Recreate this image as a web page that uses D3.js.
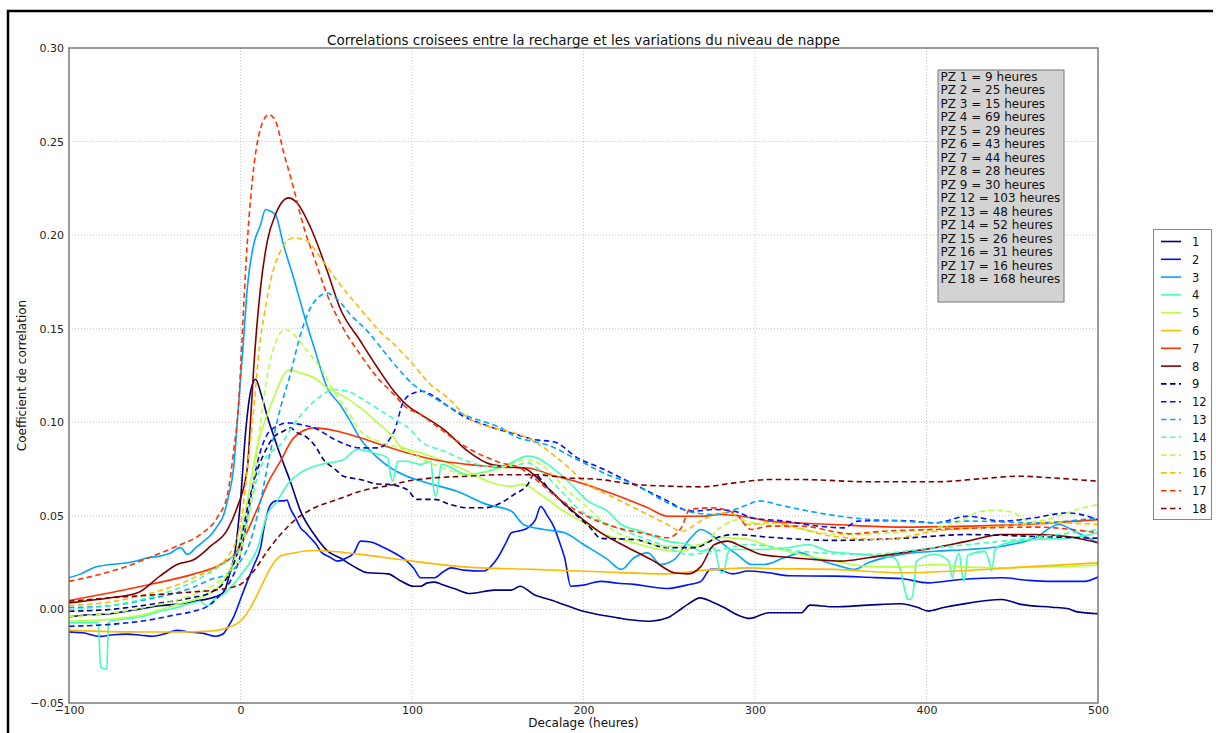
<!DOCTYPE html>
<html>
<head>
<meta charset="utf-8">
<script src="https://cdn.jsdelivr.net/npm/d3@7"></script>
<style>
  html, body { margin: 0; padding: 0; background: #fff; }
  svg { display: block; font-family: "DejaVu Sans", sans-serif; }
</style>
</head>
<body>
<svg id="chart" width="1216" height="733"></svg>
<script>
// ---------- DATA ----------
const title = "Correlations croisees entre la recharge et les variations du niveau de nappe";
const xLabel = "Decalage (heures)";
const yLabel = "Coefficient de correlation";
const xTicks = [-100, 0, 100, 200, 300, 400, 500];
const yTicks = [-0.05, 0.00, 0.05, 0.10, 0.15, 0.20, 0.25, 0.30];
const seriesNames = ["1","2","3","4","5","6","7","8","9","12","13","14","15","16","17","18"];
const annotationLines = ["PZ 1 = 9 heures","PZ 2 = 25 heures","PZ 3 = 15 heures","PZ 4 = 69 heures","PZ 5 = 29 heures","PZ 6 = 43 heures","PZ 7 = 44 heures","PZ 8 = 28 heures","PZ 9 = 30 heures","PZ 12 = 103 heures","PZ 13 = 48 heures","PZ 14 = 52 heures","PZ 15 = 26 heures","PZ 16 = 31 heures","PZ 17 = 16 heures","PZ 18 = 168 heures"];

const pz1 = [[-100,-0.004],[-90,-0.003],[-76,-0.0023],[-60,0.000],[-47,0.002],[-35,0.003],[-27,0.0044],[-17.5,0.006],[-10,0.009],[-6,0.02],[-3,0.032],[0,0.058],[3,0.095],[6,0.117],[8.8,0.123],[12,0.115],[16,0.102],[20,0.091],[23,0.083],[29,0.0685],[35,0.0525],[43,0.040],[51,0.031],[58,0.0276],[66,0.023],[74,0.0196],[86,0.019],[93,0.0155],[101,0.0124],[105,0.0124],[109,0.0142],[113,0.0146],[117,0.0135],[125,0.011],[134,0.0085],[148,0.0103],[158,0.0103],[163,0.0124],[171,0.008],[181,0.005],[191,0.0018],[200,-0.001],[210,-0.003],[220,-0.0045],[230,-0.0058],[239,-0.0063],[249,-0.0045],[255,-0.001],[261,0.0028],[268,0.0062],[275,0.004],[282,0.001],[290,-0.003],[297,-0.0048],[308,-0.0018],[327,-0.0018],[332,0.0023],[346,0.0014],[366,0.0023],[385,0.003],[395,0.001],[401,-0.0009],[410,0.001],[420,0.0027],[444,0.0053],[455,0.0027],[473,0.0012],[482,0.0005],[488,-0.0013],[500,-0.0023]];
const pz2 = [[-100,-0.012],[-92,-0.0125],[-82,-0.0144],[-74,-0.0135],[-66,-0.0132],[-58,-0.0138],[-51,-0.0143],[-44,-0.013],[-37,-0.0112],[-30,-0.012],[-21.5,-0.0128],[-14.6,-0.0143],[-10,-0.013],[-7.6,-0.0098],[-4,-0.004],[-1.8,0.001],[1,0.008],[4,0.015],[8,0.024],[11.7,0.033],[14,0.045],[17.5,0.056],[21,0.058],[25,0.058],[27,0.0585],[29,0.054],[32,0.049],[35,0.0436],[38,0.041],[41,0.038],[44,0.035],[46.7,0.031],[52,0.028],[56.6,0.0258],[62,0.0276],[66,0.030],[70,0.0365],[76,0.036],[82,0.0338],[90,0.030],[97,0.0258],[101,0.022],[105,0.0169],[113,0.0169],[118,0.020],[122.6,0.0222],[130,0.021],[142,0.0205],[146,0.023],[150,0.0276],[155,0.036],[158,0.041],[163,0.042],[167.5,0.0436],[172,0.048],[175,0.055],[179,0.050],[183,0.0436],[186,0.036],[189,0.0276],[192.6,0.0124],[200,0.013],[210,0.015],[220,0.014],[229.5,0.0134],[240,0.012],[249,0.0112],[260,0.013],[268.5,0.015],[274,0.0214],[278,0.0214],[287,0.019],[296,0.0205],[308,0.0196],[320,0.018],[346,0.0178],[370,0.017],[385,0.0165],[401,0.0142],[420,0.016],[444,0.0169],[460,0.0155],[473,0.015],[492,0.015],[500,0.0173]];
const pz3 = [[-100,0.0169],[-93,0.019],[-86,0.0222],[-76,0.024],[-66,0.0249],[-60,0.026],[-54,0.0276],[-47,0.0285],[-41,0.030],[-35,0.033],[-31,0.0294],[-26,0.033],[-21.5,0.0365],[-17,0.040],[-13.6,0.0445],[-10,0.050],[-7.6,0.058],[-4,0.0757],[-1,0.111],[2,0.147],[4,0.172],[7.7,0.195],[11.7,0.2056],[14.6,0.2137],[17.5,0.2128],[20.4,0.211],[25,0.195],[31,0.177],[37,0.1576],[43,0.1397],[50.6,0.1184],[58,0.1095],[64,0.1006],[70,0.091],[80,0.081],[89,0.0748],[97,0.0712],[109,0.0676],[126.5,0.063],[144,0.056],[158,0.0525],[165,0.0454],[177,0.0427],[189,0.041],[200,0.0347],[214,0.0267],[222,0.0214],[229.5,0.0276],[237.5,0.0302],[245,0.024],[253,0.0267],[261,0.0365],[268.5,0.0427],[278,0.0374],[284,0.033],[290,0.029],[298,0.024],[305,0.024],[317,0.0276],[327,0.0302],[334,0.0276],[350,0.023],[358,0.0214],[366,0.0249],[385,0.0294],[405,0.0311],[424,0.032],[444,0.0338],[463,0.038],[477,0.0454],[488,0.041],[500,0.0356]];
const pz4 = [[-100,-0.0071],[-83,-0.0071],[-81.5,-0.031],[-78,-0.032],[-77,-0.0075],[-76,-0.0062],[-66,-0.005],[-56.5,-0.0036],[-47,-0.001],[-37,0.001],[-30,0.003],[-23.5,0.0044],[-19.5,0.0018],[-15.5,0.0053],[-10,0.008],[-6,0.0115],[2,0.0205],[10,0.033],[15.6,0.0507],[21.5,0.058],[27.4,0.0668],[35,0.073],[46.7,0.0775],[60,0.080],[68,0.0855],[77.6,0.0837],[85.8,0.081],[87.5,0.072],[88.7,0.0685],[90.5,0.075],[91.6,0.0792],[97,0.0792],[105,0.0775],[111,0.0792],[112.5,0.065],[114,0.0605],[116,0.072],[117,0.0775],[132.5,0.072],[144,0.0739],[156,0.0775],[167.5,0.0819],[175,0.080],[179,0.0776],[191,0.0685],[202.5,0.058],[214,0.0525],[222,0.0454],[233.5,0.0418],[249,0.0365],[261,0.0347],[268.5,0.0311],[276,0.033],[278,0.027],[280,0.0196],[282,0.0205],[284,0.030],[286,0.032],[299.5,0.032],[319,0.033],[331,0.0347],[343,0.0311],[362,0.0294],[381,0.0276],[385,0.0205],[388,0.008],[389,0.0053],[391,0.0056],[393,0.015],[394,0.0258],[405,0.0295],[413,0.0258],[415,0.0169],[417,0.026],[419,0.030],[421,0.018],[422,0.015],[424,0.029],[434,0.031],[437,0.024],[438,0.0205],[440,0.032],[444,0.0347],[463,0.0374],[482,0.038],[500,0.041]];
const pz5 = [[-100,-0.0063],[-76,-0.0053],[-56.5,-0.0027],[-37,0.0027],[-17.5,0.0089],[-7.6,0.0187],[-2,0.031],[4,0.058],[10,0.088],[15.6,0.104],[21.5,0.118],[25,0.125],[28,0.128],[35,0.1264],[43,0.1237],[50.6,0.1184],[60,0.114],[70,0.1077],[80,0.0997],[89.5,0.0917],[93,0.0872],[105,0.0837],[118.5,0.0792],[132.5,0.0739],[144,0.0685],[158,0.0659],[165,0.0668],[175,0.0614],[187,0.0534],[198.5,0.0472],[210,0.041],[226,0.0365],[245,0.032],[255,0.0311],[268.5,0.0347],[280,0.0385],[288,0.038],[296,0.0375],[308,0.0338],[327,0.0294],[346,0.0258],[366,0.023],[385,0.0226],[405,0.024],[424,0.0226],[444,0.0222],[463,0.0226],[482,0.023],[500,0.0237]];
const pz6 = [[-100,-0.0112],[-66,-0.012],[-37,-0.0121],[-17.5,-0.0116],[-7.6,-0.0098],[0,-0.0062],[5.8,0.001],[11.7,0.0115],[17.5,0.0222],[23.3,0.0285],[31,0.0302],[43,0.0315],[56.6,0.0308],[70,0.0294],[97,0.0262],[132.5,0.0226],[171,0.0214],[210,0.0201],[249,0.019],[268.5,0.0208],[296,0.0222],[308,0.0219],[346,0.0214],[385,0.0196],[424,0.0208],[463,0.023],[500,0.0249]];
const pz7 = [[-100,0.0048],[-76,0.0089],[-51,0.0137],[-27,0.019],[-11.7,0.024],[-2,0.031],[4,0.0418],[10,0.0543],[15.6,0.0668],[23.3,0.0792],[31,0.0917],[43,0.097],[56.6,0.0952],[70,0.0917],[82,0.088],[97,0.0837],[113,0.080],[132.5,0.0775],[152,0.076],[167.5,0.0756],[181,0.072],[198.5,0.0676],[218,0.0614],[237.5,0.0543],[249,0.0498],[268.5,0.0498],[280,0.0507],[296,0.0493],[308,0.0472],[346,0.0454],[385,0.044],[424,0.0445],[463,0.0457],[500,0.048]];
const pz8 = [[-100,0.0035],[-76,0.0062],[-60,0.0089],[-47,0.0178],[-37,0.024],[-27,0.0267],[-17.5,0.0338],[-7.6,0.0427],[-2,0.0543],[4,0.0757],[5.8,0.100],[7.7,0.129],[11.7,0.172],[15.6,0.1967],[20.4,0.211],[28,0.2199],[33,0.2172],[41,0.2038],[50.6,0.1807],[58,0.1611],[70,0.1433],[80,0.129],[89.5,0.1166],[99,0.1077],[105,0.1042],[118.5,0.0962],[132.5,0.0846],[146,0.0775],[159.5,0.076],[165,0.0756],[175,0.0685],[187,0.058],[198.5,0.0489],[210,0.041],[226,0.033],[241,0.0258],[253,0.0196],[261,0.019],[268.5,0.023],[276,0.0345],[284,0.0365],[292,0.0338],[303.5,0.0294],[317,0.028],[334,0.0267],[350,0.0258],[366,0.0276],[385,0.0302],[405,0.033],[424,0.0365],[444,0.040],[463,0.040],[482,0.039],[500,0.0356]];
const pz9 = [[-100,-0.001],[-76,0.000],[-50,0.003],[-30,0.006],[-17.5,0.009],[-10,0.014],[-5,0.022],[0,0.036],[5,0.058],[10,0.075],[13.6,0.083],[19,0.0917],[25,0.0952],[29,0.097],[33,0.0945],[39,0.0917],[43,0.088],[48.5,0.080],[55,0.075],[60,0.0712],[70,0.0694],[80,0.067],[86,0.0668],[97,0.0641],[103,0.0588],[113,0.0588],[122.6,0.056],[132.5,0.0543],[142,0.0543],[152,0.057],[159.5,0.0614],[167.5,0.0668],[171,0.072],[181,0.0632],[191,0.0543],[204,0.0436],[210,0.038],[229.5,0.0374],[249,0.033],[264.5,0.033],[280,0.039],[288,0.040],[308,0.0386],[346,0.0369],[385,0.038],[424,0.040],[463,0.039],[500,0.038]];
const pz12 = [[-100,-0.009],[-76,-0.008],[-51,-0.0053],[-37,-0.0027],[-27,-0.0009],[-17.5,0.0027],[-11.7,0.008],[-6,0.015],[0,0.0294],[4,0.049],[10,0.079],[15.6,0.0935],[21.5,0.098],[27.4,0.0997],[35,0.0988],[43,0.097],[56.6,0.090],[70,0.0863],[80,0.0863],[89.5,0.095],[95,0.111],[101,0.1157],[106,0.1166],[111,0.1148],[121,0.1086],[130,0.1032],[142,0.0988],[150,0.0962],[158,0.0943],[171,0.0908],[183,0.0895],[196.5,0.081],[210,0.0756],[226,0.0685],[237.5,0.0632],[249,0.058],[258.5,0.0534],[264.5,0.0525],[276,0.0534],[288,0.0525],[298,0.049],[317,0.0472],[337,0.0445],[352,0.0436],[360,0.0472],[385,0.0475],[405,0.0463],[424,0.0498],[444,0.0472],[463,0.049],[482,0.0516],[500,0.048]];
const pz13 = [[-100,0.001],[-76,0.002],[-51,0.006],[-37,0.009],[-27,0.012],[-17.5,0.016],[-7.6,0.019],[0,0.0258],[5.8,0.0365],[11.7,0.058],[17.5,0.0846],[23.3,0.1077],[29,0.1255],[35,0.147],[39,0.1576],[45,0.1665],[50.6,0.169],[56.6,0.1656],[64,0.1576],[74,0.1487],[83.5,0.138],[91.6,0.129],[101,0.120],[113,0.113],[121,0.1086],[132.5,0.1032],[144,0.0997],[153.5,0.0962],[158,0.0935],[181,0.0872],[196.5,0.080],[214,0.072],[229.5,0.0668],[249,0.057],[261,0.0525],[276,0.0507],[296,0.056],[302,0.058],[317,0.0552],[337,0.0516],[356,0.049],[385,0.0472],[405,0.0463],[424,0.0472],[463,0.0463],[500,0.049]];
const pz14 = [[-100,0.000],[-76,0.002],[-51,0.007],[-37,0.011],[-27,0.015],[-17.5,0.020],[-7.6,0.026],[0,0.033],[4,0.049],[11.7,0.0757],[19,0.085],[23.3,0.088],[31,0.0988],[39,0.1077],[46.7,0.114],[54.5,0.1175],[62.5,0.1166],[70,0.113],[82,0.106],[91.6,0.1006],[99,0.0962],[105,0.090],[118.5,0.0846],[132.5,0.0792],[144,0.0766],[158,0.0766],[167.5,0.0783],[175,0.0739],[187,0.0632],[198.5,0.0525],[210,0.0472],[229.5,0.040],[245,0.0347],[261,0.0294],[276,0.0311],[296,0.0347],[327,0.031],[366,0.0295],[405,0.033],[444,0.0365],[500,0.0427]];
const pz15 = [[-100,-0.004],[-76,-0.002],[-51,0.002],[-37,0.005],[-27,0.008],[-17.5,0.012],[-7.6,0.019],[0,0.030],[4,0.045],[8,0.070],[11.7,0.100],[15.6,0.125],[21.5,0.145],[26,0.1496],[31,0.147],[39,0.138],[46.7,0.129],[54.5,0.1166],[62.5,0.106],[70,0.0952],[80,0.090],[93,0.0863],[113,0.0775],[132.5,0.072],[152,0.0756],[167.5,0.080],[175,0.0775],[191,0.0632],[202.5,0.0543],[218,0.0418],[233.5,0.0365],[249,0.0338],[268.5,0.0347],[280,0.044],[290,0.048],[300,0.046],[320,0.044],[350,0.040],[380,0.041],[400,0.043],[420,0.047],[430,0.052],[440,0.053],[450,0.052],[460,0.047],[470,0.048],[480,0.051],[490,0.054],[500,0.056]];
const pz16 = [[-100,0.002],[-76,0.004],[-51,0.009],[-37,0.013],[-27,0.017],[-17.5,0.021],[-7.6,0.028],[0,0.045],[4,0.075],[8,0.110],[11,0.140],[13.6,0.156],[17.5,0.1754],[23.3,0.1915],[31,0.1986],[39,0.1967],[46.7,0.1878],[56.6,0.1754],[66,0.1647],[76,0.154],[82,0.1478],[87.5,0.1433],[99,0.1326],[111,0.120],[121,0.113],[132.5,0.1024],[144,0.0979],[152,0.0962],[171,0.090],[187,0.0792],[202.5,0.0668],[218,0.0596],[233.5,0.0525],[249,0.0454],[257,0.0418],[268.5,0.0472],[280,0.0516],[288,0.0507],[296,0.0454],[308,0.0463],[346,0.039],[375,0.0374],[405,0.0418],[444,0.0445],[473,0.0463],[500,0.0454]];
const pz17 = [[-100,0.015],[-86,0.0178],[-66,0.0231],[-51,0.0285],[-37,0.0338],[-23.5,0.040],[-13.6,0.049],[-7.6,0.0614],[-4,0.0846],[-1,0.111],[1,0.147],[4,0.1967],[7.7,0.236],[11.7,0.257],[16.5,0.2644],[20.4,0.261],[25,0.2448],[31,0.225],[37,0.204],[43,0.1878],[50.6,0.168],[60,0.150],[70,0.136],[80,0.1237],[89.5,0.1148],[97,0.1077],[105,0.1042],[113,0.0988],[132.5,0.0863],[152,0.0783],[163,0.0756],[171,0.0703],[185,0.0596],[200,0.0507],[220,0.0436],[239,0.040],[249,0.0383],[257,0.0436],[262,0.0534],[274,0.0543],[288,0.0516],[298,0.0427],[308,0.0445],[327,0.0445],[356,0.0404],[375,0.0418],[405,0.0427],[434,0.0436],[463,0.044],[500,0.041]];
const pz18 = [[-100,0.0044],[-76,0.0062],[-47,0.008],[-27,0.0094],[-11.7,0.0107],[0,0.0134],[7.7,0.0205],[15.6,0.0311],[23.3,0.040],[31,0.0472],[43,0.0543],[56.6,0.0588],[70,0.0632],[89.5,0.0668],[97,0.0685],[113,0.0703],[132.5,0.0712],[152,0.072],[171,0.072],[191,0.0703],[210,0.0694],[229.5,0.0668],[249,0.0659],[268.5,0.0655],[288,0.0676],[308,0.0694],[327,0.0694],[366,0.0682],[405,0.0682],[434,0.070],[454,0.0712],[473,0.0703],[500,0.0685]];

const seriesValues = [pz1,pz2,pz3,pz4,pz5,pz6,pz7,pz8,pz9,pz12,pz13,pz14,pz15,pz16,pz17,pz18];
const palette = ["#000080","#0012ff","#00a4ff","#41ffb6","#b6ff41","#ffb900","#ff3200","#800000"];

// ---------- CHART ----------
const svg = d3.select("#chart");
const W = 1216, H = 733;
const plot = {left: 69, right: 1098, top: 48, bottom: 703};

const x = d3.scaleLinear().domain([-100, 500]).range([plot.left, plot.right]);
const y = d3.scaleLinear().domain([-0.05, 0.30]).range([plot.bottom, plot.top]);

// outer figure frame (left & top)
svg.append("path")
  .attr("d", `M8,${H} L8,11 L1213,11`)
  .attr("fill", "none").attr("stroke", "#000").attr("stroke-width", 2.5);

// grid
const grid = svg.append("g");
grid.selectAll("line.gx").data(xTicks).join("line")
  .attr("x1", d => x(d)).attr("x2", d => x(d))
  .attr("y1", plot.top).attr("y2", plot.bottom)
  .attr("stroke", "#b8b8b8").attr("stroke-width", 0.8).attr("stroke-dasharray", "1,2");
grid.selectAll("line.gy").data(yTicks).join("line")
  .attr("y1", d => y(d)).attr("y2", d => y(d))
  .attr("x1", plot.left).attr("x2", plot.right)
  .attr("stroke", "#b8b8b8").attr("stroke-width", 0.8).attr("stroke-dasharray", "1,2");

// clip
svg.append("clipPath").attr("id", "clip").append("rect")
  .attr("x", plot.left).attr("y", plot.top)
  .attr("width", plot.right - plot.left).attr("height", plot.bottom - plot.top);

const line = d3.line().x(d => x(d[0])).y(d => y(d[1])).curve(d3.curveMonotoneX);
const lines = svg.append("g").attr("clip-path", "url(#clip)");
seriesValues.forEach((s, i) => {
  lines.append("path")
    .attr("d", line(s))
    .attr("fill", "none")
    .attr("stroke", palette[i % 8])
    .attr("stroke-width", 1.6)
    .attr("stroke-linejoin", "round")
    .attr("stroke-dasharray", i >= 8 ? "5.5,3.5" : null);
});

// axes frame
svg.append("rect")
  .attr("x", plot.left).attr("y", plot.top)
  .attr("width", plot.right - plot.left).attr("height", plot.bottom - plot.top)
  .attr("fill", "none").attr("stroke", "#6a6a6a").attr("stroke-width", 1.3);

// tick labels via d3 axes
const fmtY = d3.format(".2f");
const xAxis = d3.axisBottom(x).tickValues(xTicks).tickSize(0).tickPadding(3).tickFormat(d3.format("d"));
const yAxis = d3.axisLeft(y).tickValues(yTicks).tickSize(0).tickPadding(5).tickFormat(fmtY);
const gx = svg.append("g").attr("transform", `translate(0,${plot.bottom})`).call(xAxis);
const gy = svg.append("g").attr("transform", `translate(${plot.left},0)`).call(yAxis);
[gx, gy].forEach(g => {
  g.select(".domain").remove();
  g.selectAll("text").attr("font-family", "DejaVu Sans").attr("font-size", 11).attr("fill", "#222");
});

// title & labels
svg.append("text").attr("x", (plot.left + plot.right) / 2).attr("y", 45)
  .attr("text-anchor", "middle").attr("font-size", 13.5).attr("fill", "#111").text(title);
svg.append("text").attr("x", (plot.left + plot.right) / 2).attr("y", 727)
  .attr("text-anchor", "middle").attr("font-size", 12).attr("fill", "#111").text(xLabel);
svg.append("text").attr("transform", `translate(26,${(plot.top + plot.bottom) / 2}) rotate(-90)`)
  .attr("text-anchor", "middle").attr("font-size", 12).attr("fill", "#111").text(yLabel);

// annotation box
const ann = svg.append("g");
ann.append("rect").attr("x", 938).attr("y", 70).attr("width", 126).attr("height", 232)
  .attr("fill", "#d3d3d3").attr("stroke", "#777").attr("stroke-width", 1);
ann.selectAll("text").data(annotationLines).join("text")
  .attr("x", 940.5).attr("y", (d, i) => 81 + i * 13.49)
  .attr("font-size", 12).attr("fill", "#111").text(d => d);

// legend
const leg = svg.append("g");
leg.append("rect").attr("x", 1153.5).attr("y", 229.5).attr("width", 58).attr("height", 290)
  .attr("fill", "#fff").attr("stroke", "#888").attr("stroke-width", 1);
seriesNames.forEach((name, i) => {
  const yy = 241.5 + i * 17.8;
  leg.append("line").attr("x1", 1161).attr("x2", 1181).attr("y1", yy).attr("y2", yy)
    .attr("stroke", palette[i % 8]).attr("stroke-width", 1.6)
    .attr("stroke-dasharray", i >= 8 ? "5.5,3.5" : null);
  leg.append("text").attr("x", 1192).attr("y", yy + 4.5)
    .attr("font-size", 11.5).attr("fill", "#111").text(name);
});
</script>
</body>
</html>
